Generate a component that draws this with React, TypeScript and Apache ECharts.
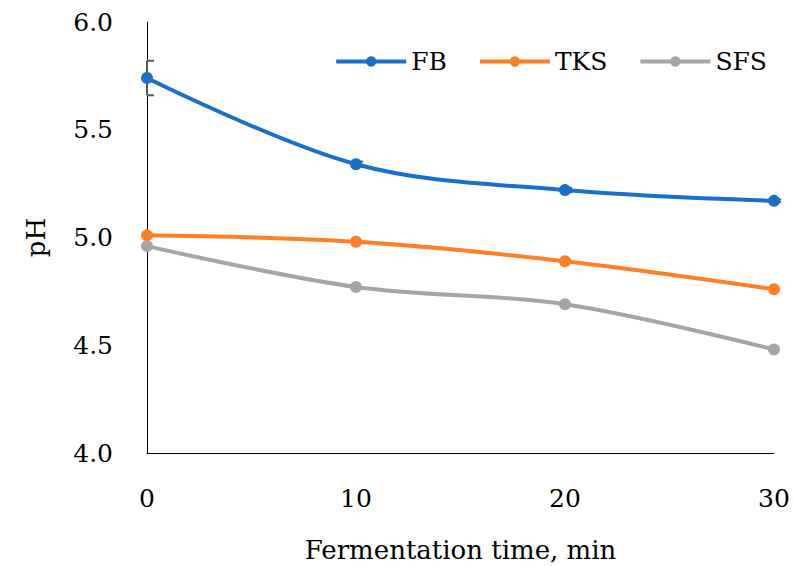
import React, { useEffect, useRef } from "react";
import * as echarts from "echarts";

const times = [0, 10, 20, 30];
const fb = [5.74, 5.34, 5.22, 5.17];
const tks = [5.01, 4.98, 4.89, 4.76];
const sfs = [4.96, 4.77, 4.69, 4.48];
const fbErr = [0.08, 0.012, 0.01, 0.006];

const FONT = "DejaVu Serif";
const FS = 25;

export default function App() {
  const ref = useRef<HTMLDivElement>(null);
  useEffect(() => {
    const chart = echarts.init(ref.current!, null, { renderer: "svg" });
    const mk = (name: string, data: number[], color: string) => ({
      name,
      type: "line",
      smooth: 0.35,
      data: times.map((t, i) => [t, data[i]]),
      symbol: "circle",
      symbolSize: 12,
      lineStyle: { color, width: 4 },
      itemStyle: { color },
      z: 3,
    });
    const errData = times.map((t, i) => [t, fb[i], fbErr[i]]);
    chart.setOption({
      animation: false,
      textStyle: { fontFamily: FONT },
      grid: { left: 147, right: 19, top: 22, bottom: 113, outerBoundsMode: "none" },
      legend: {
        data: ["FB", "TKS", "SFS"],
        top: 44,
        right: 21,
        itemWidth: 70,
        itemHeight: 13,
        itemGap: 31,
        lineStyle: { width: 4 },
        textStyle: { fontFamily: FONT, fontSize: FS, color: "#000" },
      },
      xAxis: {
        type: "value",
        min: 0,
        max: 30,
        interval: 10,
        axisLine: { lineStyle: { color: "#000", width: 1 } },
        axisTick: { show: false },
        splitLine: { show: false },
        axisLabel: { fontFamily: FONT, fontSize: FS, color: "#000", margin: 33 },
        name: "Fermentation time, min",
        nameLocation: "middle",
        nameGap: 84,
        nameTextStyle: { fontFamily: FONT, fontSize: 26, color: "#000" },
      },
      yAxis: {
        type: "value",
        min: 4,
        max: 6,
        interval: 0.5,
        axisLine: { show: true, lineStyle: { color: "#000", width: 1 } },
        axisTick: { show: false },
        splitLine: { show: false },
        axisLabel: {
          fontFamily: FONT,
          fontSize: FS,
          color: "#000",
          margin: 34,
          formatter: (v: number) => v.toFixed(1),
        },
        name: "pH",
        nameLocation: "middle",
        nameGap: 98,
        nameTextStyle: { fontFamily: FONT, fontSize: 26, color: "#000" },
      },
      series: [
        {
          name: "errFB",
          type: "custom",
          z: 1,
          clip: false,
          data: errData,
          renderItem: (params: any, api: any) => {
            const x = api.value(0);
            const y = api.value(1);
            const e = api.value(2);
            const top = api.coord([x, y + e]);
            const bot = api.coord([x, y - e]);
            const style = { stroke: "#595959", lineWidth: 2 };
            return {
              type: "group",
              children: [
                { type: "line", shape: { x1: top[0], y1: top[1], x2: bot[0], y2: bot[1] }, style },
                { type: "line", shape: { x1: top[0], y1: top[1], x2: top[0] + 7, y2: top[1] }, style },
                { type: "line", shape: { x1: bot[0], y1: bot[1], x2: bot[0] + 7, y2: bot[1] }, style },
              ],
            };
          },
        },
        mk("FB", fb, "#1B6FC8"),
        mk("TKS", tks, "#FF7F27"),
        mk("SFS", sfs, "#A5A5A5"),
      ],
    });
    return () => chart.dispose();
  }, []);
  return (
    <div
      ref={ref}
      style={{ position: "fixed", left: 0, top: 0, width: 793, height: 566, background: "#fff" }}
    />
  );
}
